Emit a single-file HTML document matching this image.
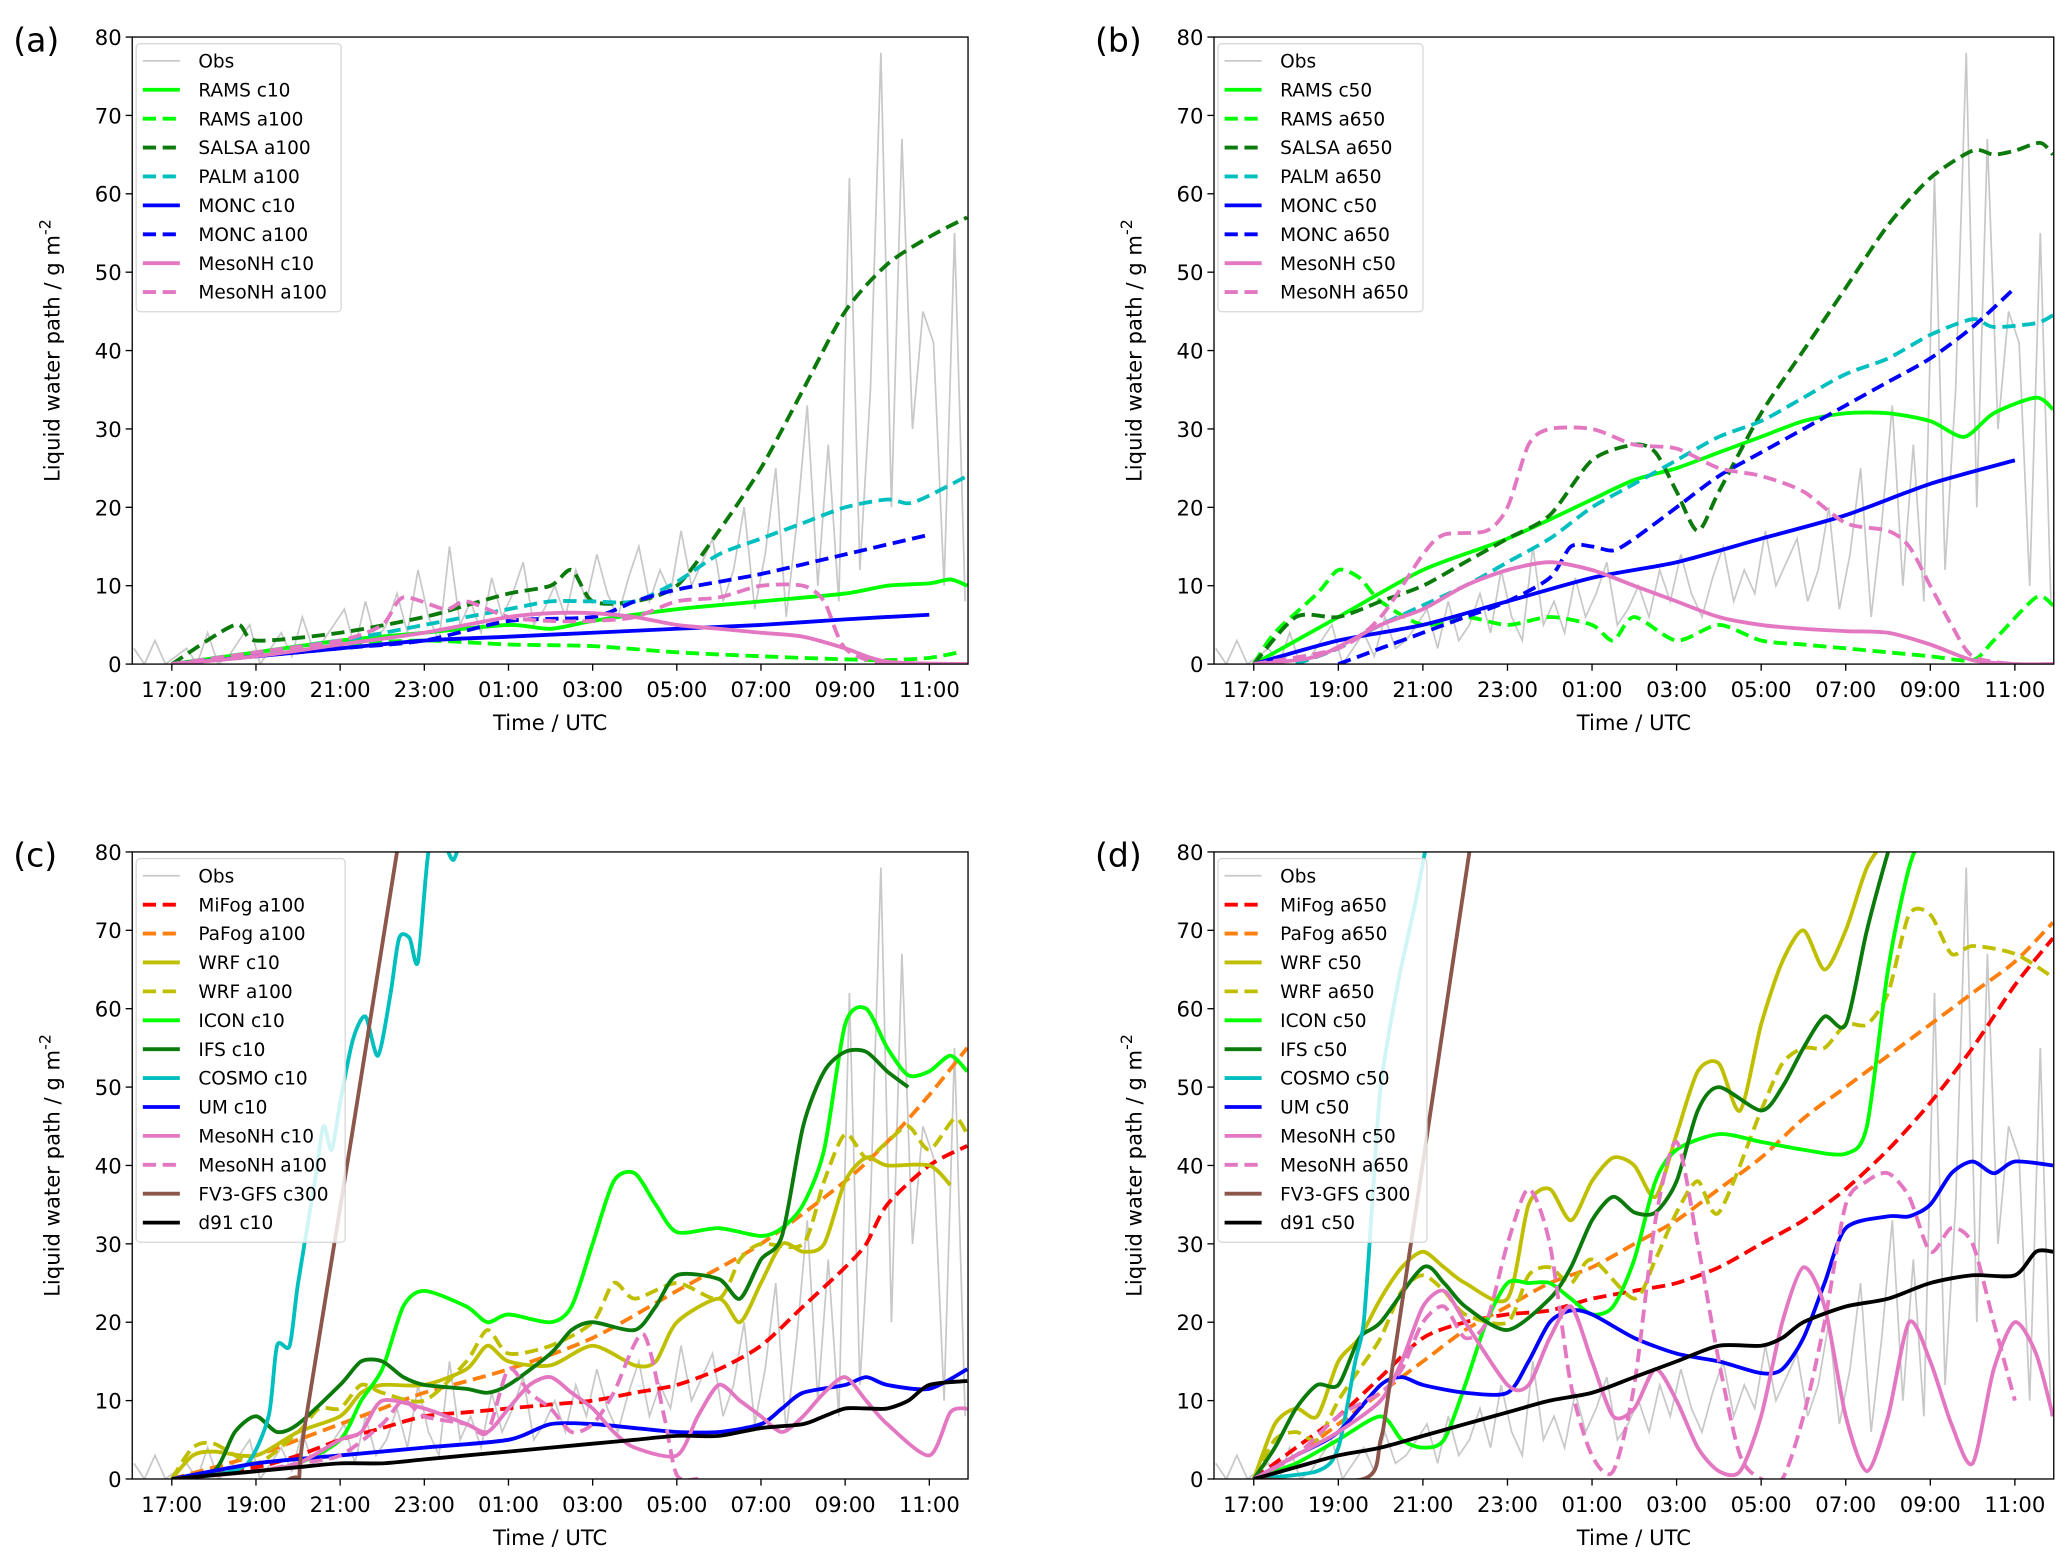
<!DOCTYPE html>
<html><head><meta charset="utf-8"><style>
html,body{margin:0;padding:0;background:#fff;width:2067px;height:1561px;overflow:hidden}
svg{display:block;font-family:"DejaVu Sans","Liberation Sans",sans-serif}
</style></head><body>
<svg id="fig" width="2067" height="1561" viewBox="0 0 1563 1180" preserveAspectRatio="none" xmlns="http://www.w3.org/2000/svg"></svg>
<script>
// ---- data (t = hours after 17:00 UTC) ----
const tickLabels = ["17:00","19:00","21:00","23:00","01:00","03:00","05:00","07:00","09:00","11:00"];
const yTicks = [0,10,20,30,40,50,60,70,80];
const obsStart = -0.9, obsStep = 0.25;
const obsValues = [2,0,3,0,1,2,0,4,0,1,3,5,0,2,4,1,6,2,3,5,7,2,8,3,5,9,4,12,6,3,15,5,8,4,11,6,9,13,5,7,10,6,12,8,14,9,6,11,15,8,12,9,17,10,13,16,8,12,20,7,14,25,6,18,33,10,28,8,62,12,35,78,20,67,30,45,41,10,55,8];

const a_RAMS_c10 = [[0,0],[2,1.5],[4,3],[6,4],[8,5],[9,4.5],[10,5.5],[12,7],[14,8],[16,9],[17,10],[18,10.3],[18.5,10.8],[18.9,10]];
const a_RAMS_a100 = [[0,0],[2,1.5],[4,2.5],[6,3],[8,2.5],[10,2.3],[12,1.5],[14,1],[16,0.6],[17,0.5],[18,0.8],[18.7,1.5]];
const a_SALSA_a100 = [[0,0],[1.5,5],[2,3],[4,4],[6,6],[7,7.5],[8,9],[9,10],[9.5,12],[10,8],[11,8],[12,10],[13,17],[14,25],[15,35],[16,45],[17,51],[18,54.5],[18.9,57]];
const a_PALM_a100 = [[0,0],[4,3],[6,5],[8,7],[9,8],[10,8],[11,8],[12,10.5],[13,14],[14,16],[15,18],[16,20],[17,21],[17.5,20.5],[18,21.5],[18.9,24]];
const a_MONC_c10 = [[0,0],[2,1],[4,2],[6,3],[8,3.5],[10,4],[12,4.5],[14,5],[16,5.7],[18,6.3]];
const a_MONC_a100 = [[0,0],[4,2],[6,3],[8,5.5],[10,6],[11,8],[12,9.5],[14,11.5],[16,14],[18,16.5]];
const a_MesoNH_c10 = [[0,0],[2,1],[4,2.5],[6,4],[8,6],[9,6.5],[10,6.5],[11,6],[12,5],[13,4.5],[14,4],[15,3.5],[16,2],[17,0.3],[18.9,0]];
const a_MesoNH_a100 = [[0,0],[2,1.5],[4,3],[5,5],[5.5,8.5],[6.5,7],[7,8],[8,6],[9,5.5],[10,5.5],[11,6],[12,8],[13,8.5],[14,10],[15,10],[15.5,8],[16,2],[17,0],[18.9,0]];

const b_RAMS_c50 = [[0,0],[2,6],[4,12],[6,16],[8,21],[9,23.5],[10,25],[11,27],[12,29],[13,31],[14,32],[15,32],[16,31],[16.8,29],[17.5,32],[18.5,34],[18.9,32.5]];
const b_RAMS_a650 = [[0,0],[0.5,4],[1.5,9],[2,12],[2.5,11],[3,8],[4,5],[5,6],[6,5],[7,6],[8,5],[8.5,3],[9,6],[10,3],[11,5],[12,3],[13,2.5],[14,2],[15,1.5],[16,1],[17,0.5],[17.5,3],[18.5,8.5],[18.9,7.5]];
const b_SALSA_a650 = [[0,0],[1,6],[2,6],[3,8],[4,10],[5,13],[6,16],[7,19],[8,26],[9,28],[9.5,27],[10,22],[10.5,17],[11,22],[12,32],[13,40],[14,48],[15,56],[16,62],[17,65.5],[17.5,65],[18,65.5],[18.6,66.5],[18.9,65]];
const b_PALM_a650 = [[1,0],[2,2],[3,5],[5,10],[6,13],[7,16],[8,20],[9,23],[10,26],[11,29],[12,31],[13,34],[14,37],[15,39],[16,42],[17,44],[17.5,43],[18.5,43.5],[18.9,44.5]];
const b_MONC_c50 = [[0,0],[2,3],[4,5],[6,8],[8,11],[10,13],[12,16],[14,19],[16,23],[18,26]];
const b_MONC_a650 = [[2,0],[3,2],[4,4],[5,6],[6,8],[7,11],[7.5,15],[8,15],[8.5,14.5],[9,16],[10,20],[11,24],[12,27],[13,30],[14,33],[15,36],[16,39],[17,43],[18,48]];
const b_MesoNH_c50 = [[0,0],[1.5,1],[3,5],[4,7],[5,10],[6,12],[7,13],[8,12],[9,10],[10,8],[11,6],[12,5],[13,4.5],[14,4.2],[15,4],[16,2.5],[17,0.5],[18,0],[18.9,0]];
const b_MesoNH_a650 = [[0,0],[2,2],[3,6],[4,14],[4.5,16.5],[5.5,17],[6,20],[6.5,28],[7,30],[8,30],[9,28],[10,27.5],[11,25],[12,24],[13,22],[14,18],[15,17],[15.5,15],[16,10],[16.5,5],[17,1],[18,0],[18.9,0]];

const c_MiFog = [[0,0],[2,1.5],[3,3],[4,5],[5,6.5],[6,8],[7,8.5],[8,9],[9,9.5],[10,10],[11,11],[12,12],[13,14],[14,17],[15,22],[16,27],[16.5,30],[17,35],[18,40],[18.9,42.5]];
const c_PaFog = [[0,0],[2,3],[3,5],[4,7],[5,9],[6,11],[8,14],[10,18],[12,24],[14,30],[16,38],[17,43],[18,49],[18.9,55]];
const c_WRF_c10 = [[0,0],[0.5,3],[1,3.5],[2,3],[3,6],[4,8],[4.5,11],[5,12],[6,12],[7,14],[7.5,17],[8,15],[9,14.5],[10,17],[11,14.5],[11.5,15],[12,20],[13,23],[13.5,20],[14,25],[14.5,30],[15,29],[15.5,30],[16,38],[16.5,41],[17,40],[18,40],[18.5,37.5]];
const c_WRF_a100 = [[0,0],[0.5,4],[1,4.5],[2,2],[3,6],[3.5,9],[4,9],[4.5,12],[5,11],[6,10],[7,15],[7.5,19],[8,16],[9,17],[10,20],[10.5,25],[11,23],[12,25],[13,23],[13.5,28],[14,30],[15,30],[15.5,38],[16,44],[16.5,41],[17,43],[17.5,45],[18,42],[18.6,46],[18.9,44]];
const c_ICON = [[0,0],[2,1],[3,2],[4,5],[4.5,10],[5,14],[5.5,22],[6,24],[7,22],[7.5,20],[8,21],[9,20],[9.5,22],[10,30],[10.5,38],[11,39],[11.5,35],[12,31.5],[13,32],[14,31],[14.5,32],[15,35],[15.5,42],[16,58],[16.5,60],[17,55],[17.5,51.5],[18,52],[18.5,54],[18.9,52]];
const c_IFS = [[0,0],[1,1],[1.5,6],[2,8],[2.5,6],[3,7],[4,12],[4.5,15],[5,15],[5.5,13],[6,12],[7,11.5],[7.5,11],[8,12],[9,16],[9.5,19],[10,20],[11,19],[11.5,22],[12,26],[13,25.5],[13.5,23],[14,28],[14.5,31],[15,45],[15.5,52],[16,54.5],[16.5,54.5],[17,52],[17.5,50]];
const c_COSMO = [[0,0],[1,0.5],[1.8,2],[2.3,8],[2.5,17],[2.8,17],[3,25],[3.4,38],[3.6,45],[3.8,42],[4,48],[4.3,56],[4.6,59],[4.9,54],[5.2,62],[5.4,69],[5.65,69],[5.85,66],[6.1,80],[6.4,82],[6.7,79],[7,85]];
const c_UM = [[0,0],[2,2],[4,3],[6,4],[8,5],[9,7],[10,7],[11,6.5],[12,6],[13,6],[14,7],[14.5,9],[15,11],[16,12],[16.5,13],[17,12],[18,11.5],[18.9,14]];
const c_MesoNH_c10 = [[0,0],[2,1],[3,2],[4,5],[4.5,6],[5,10],[6,9],[7,7],[7.5,6],[8,9],[8.5,12],[9,13],[9.5,11],[10,9],[10.5,6],[11,4],[12,3],[12.5,8],[13,12],[13.5,10],[14,8],[14.5,6],[15,8],[15.5,11],[16,13],[16.5,10],[17,7],[18,3],[18.5,8.5],[18.9,9]];
const c_MesoNH_a100 = [[0,0],[2,1],[3,2],[4,3],[5,7],[5.5,10],[6,8],[7,7],[7.5,6],[8,14],[8.5,11],[9,9],[9.5,6],[10,7],[10.5,11],[11.2,18.5],[11.7,8],[12,0.5],[12.5,0]];
const c_FV3 = [[0,0],[2.8,0],[3.2,8],[5.35,80],[5.5,85]];
const c_d91 = [[0,0],[2,1],[3,1.5],[4,2],[5,2],[6,2.5],[7,3],[8,3.5],[9,4],[10,4.5],[11,5],[12,5.5],[13,5.5],[14,6.5],[15,7],[15.5,8],[16,9],[16.5,9],[17,9],[17.5,10],[18,12],[18.9,12.5]];

const d_MiFog = [[0,0],[1,4],[2,8],[3,13],[4,18],[5,20],[6,21],[7,21.5],[8,23],[9,24],[10,25],[11,27],[12,30],[13,33],[14,37],[15,42],[16,48],[17,55],[18,63],[18.9,69]];
const d_PaFog = [[0,0],[1,3],[2,7],[3,11],[4,15],[5,19],[6,22],[7,25],[8,27],[9,30],[10,33],[11,37],[12,41],[13,46],[14,50],[15,54],[16,58],[17,62],[18,66],[18.9,71]];
const d_WRF_c50 = [[0,0],[0.5,7],[1,9],[1.5,8],[2,15],[2.5,18],[3,23],[3.5,27],[4,29],[4.5,27],[5,25],[6,23],[6.5,35],[7,37],[7.5,33],[8,38],[8.5,41],[9,40],[9.5,36],[10,44],[10.5,52],[11,53],[11.5,47],[12,58],[12.5,66],[13,70],[13.5,65],[14,70],[14.5,78],[15,82]];
const d_WRF_a650 = [[0,0],[0.5,5],[1,6],[1.5,5],[2,10],[2.5,14],[3,18],[3.5,24],[4,26],[4.5,24],[5,21],[6,20],[6.5,26],[7,27],[7.5,25],[8,28],[9,23],[9.5,28],[10,34],[10.5,38],[11,34],[12,47],[12.5,53],[13,55],[13.5,55],[14,58],[14.5,58],[15,62],[15.5,72],[16,72],[16.5,67],[17,68],[18,67],[18.9,64]];
const d_ICON = [[0,0],[1,2],[2,5],[3,8],[3.5,5],[4,4],[4.5,5],[5,12],[5.5,20],[6,25],[6.5,25],[7,25],[7.5,23],[8,21],[8.5,22],[9,28],[9.5,38],[10,42],[11,44],[12,43],[13,42],[14,41.5],[14.5,45],[15,65],[15.5,78],[16,85]];
const d_IFS = [[0,0],[0.5,4],[1,9],[1.5,12],[2,12],[2.5,18],[3,20],[4,27],[4.5,25],[5,22],[6,19],[7,23],[7.5,27],[8,33],[8.5,36],[9,34],[9.5,34],[10,38],[10.5,47],[11,50],[12,47],[12.5,50],[13,55],[13.5,59],[14,58],[14.5,70],[15,80],[15.3,85]];
const d_COSMO = [[0,0],[1.5,1],[2.0,4],[2.4,15],[2.6,20],[2.8,35],[3.0,50],[3.4,63],[3.8,73],[4.05,80],[4.2,85]];
const d_UM = [[0,0],[1,3],[2,6],[3,12],[3.5,13],[4,12],[5,11],[6,11],[6.5,15],[7,20],[7.5,21.5],[8,21],[9,18],[10,16],[11,15],[12,13.5],[12.5,14],[13,18],[13.5,25],[14,32],[15,33.5],[15.5,33.5],[16,35],[16.5,39],[17,40.5],[17.5,39],[18,40.5],[18.9,40]];
const d_MesoNH_c50 = [[0,0],[1,3],[2,6],[3,10],[3.5,15],[4,22],[4.5,24],[5,20],[6,12],[6.5,12],[7,18],[7.5,22],[8,15],[8.5,8],[9,9],[9.5,14],[10,10],[10.5,4],[11,1],[11.5,1],[12,8],[12.5,20],[13,27],[13.5,22],[14,8],[14.5,1],[15,8],[15.5,20],[16,15],[16.5,7],[17,2],[17.5,14],[18,20],[18.5,16],[18.9,8]];
const d_MesoNH_a650 = [[0,0],[1,3],[2,8],[3,11],[3.5,14],[4,20],[4.5,22],[5,18],[5.5,20],[6,30],[6.5,37],[7,30],[7.5,12],[8,3],[8.5,1],[9,12],[9.5,33],[10,43],[10.5,30],[11,15],[11.5,3],[12,0],[12.5,0],[13,8],[13.5,20],[14,35],[14.5,38],[15,39],[15.5,36],[16,29],[16.5,32],[17,30],[17.5,20],[18,10]];
const d_FV3 = [[0,0],[2.6,0],[3.0,5],[3.3,15],[5.1,80],[5.3,85]];
const d_d91 = [[0,0],[1,1.5],[2,3],[3,4],[4,5.5],[5,7],[6,8.5],[7,10],[8,11],[9,13],[10,15],[11,17],[12,17],[12.5,18],[13,20],[14,22],[15,23],[16,25],[17,26],[18,26],[18.5,29],[18.9,29]];

// ---- styles ----
const LIME="#00ff00",DG="#0a7a0a",CY="#00bfbf",BL="#0000ff",PK="#e377c2",RD="#ff0000",OR="#ff7f0e",OL="#bfbf00",BR="#8c564b",BK="#000000";
const panels = [
 {id:"a",x0:100,x1:732,y0:28,y1:502,series:[
  ["RAMS c10",a_RAMS_c10,LIME,0],["RAMS a100",a_RAMS_a100,LIME,1],["SALSA a100",a_SALSA_a100,DG,1],["PALM a100",a_PALM_a100,CY,1],
  ["MONC c10",a_MONC_c10,BL,0],["MONC a100",a_MONC_a100,BL,1],["MesoNH c10",a_MesoNH_c10,PK,0],["MesoNH a100",a_MesoNH_a100,PK,1]]},
 {id:"b",x0:918,x1:1553,y0:28,y1:502,series:[
  ["RAMS c50",b_RAMS_c50,LIME,0],["RAMS a650",b_RAMS_a650,LIME,1],["SALSA a650",b_SALSA_a650,DG,1],["PALM a650",b_PALM_a650,CY,1],
  ["MONC c50",b_MONC_c50,BL,0],["MONC a650",b_MONC_a650,BL,1],["MesoNH c50",b_MesoNH_c50,PK,0],["MesoNH a650",b_MesoNH_a650,PK,1]]},
 {id:"c",x0:100,x1:732,y0:644,y1:1118,series:[
  ["MiFog a100",c_MiFog,RD,1],["PaFog a100",c_PaFog,OR,1],["WRF c10",c_WRF_c10,OL,0],["WRF a100",c_WRF_a100,OL,1],["ICON c10",c_ICON,LIME,0],
  ["IFS c10",c_IFS,DG,0],["COSMO c10",c_COSMO,CY,0],["UM c10",c_UM,BL,0],["MesoNH c10",c_MesoNH_c10,PK,0],["MesoNH a100",c_MesoNH_a100,PK,1],
  ["FV3-GFS c300",c_FV3,BR,0],["d91 c10",c_d91,BK,0]]},
 {id:"d",x0:918,x1:1553,y0:644,y1:1118,series:[
  ["MiFog a650",d_MiFog,RD,1],["PaFog a650",d_PaFog,OR,1],["WRF c50",d_WRF_c50,OL,0],["WRF a650",d_WRF_a650,OL,1],["ICON c50",d_ICON,LIME,0],
  ["IFS c50",d_IFS,DG,0],["COSMO c50",d_COSMO,CY,0],["UM c50",d_UM,BL,0],["MesoNH c50",d_MesoNH_c50,PK,0],["MesoNH a650",d_MesoNH_a650,PK,1],
  ["FV3-GFS c300",d_FV3,BR,0],["d91 c50",d_d91,BK,0]]}
];
const NS="http://www.w3.org/2000/svg";
const svg=document.getElementById("fig");
function mk(tag,attrs,parent){const e=document.createElementNS(NS,tag);for(const k in attrs)e.setAttribute(k,attrs[k]);(parent||svg).appendChild(e);return e;}
function smooth(P){
  if(P.length<3){return P.map((p,i)=>(i?"L":"M")+p[0].toFixed(1)+","+p[1].toFixed(1)).join("");}
  let d="M"+P[0][0].toFixed(1)+","+P[0][1].toFixed(1);
  for(let i=0;i<P.length-1;i++){
    const p0=P[Math.max(0,i-1)],p1=P[i],p2=P[i+1],p3=P[Math.min(P.length-1,i+2)];
    const k=1/6*0.8;
    const c1=[p1[0]+(p2[0]-p0[0])*k,p1[1]+(p2[1]-p0[1])*k];
    const c2=[p2[0]-(p3[0]-p1[0])*k,p2[1]-(p3[1]-p1[1])*k];
    d+="C"+c1[0].toFixed(1)+","+c1[1].toFixed(1)+" "+c2[0].toFixed(1)+","+c2[1].toFixed(1)+" "+p2[0].toFixed(1)+","+p2[1].toFixed(1);
  }
  return d;
}
const TMIN=-0.94,TMAX=18.92,VMAX=80;
panels.forEach(p=>{
  const g=mk("g",{});
  
  
  const xs=t=>p.x0+(t-TMIN)/(TMAX-TMIN)*(p.x1-p.x0);
  const ys=v=>p.y1-v/VMAX*(p.y1-p.y0);
  const cp=mk("clipPath",{id:"clip"+p.id},g);
  mk("rect",{x:p.x0,y:p.y0,width:p.x1-p.x0,height:p.y1-p.y0},cp);
  const plot=mk("g",{"clip-path":"url(#clip"+p.id+")"},g);
  let od="";obsValues.forEach((v,i)=>{od+=(i?"L":"M")+xs(obsStart+i*obsStep).toFixed(1)+","+ys(v).toFixed(1);});
  const op=mk("path",{d:od,fill:"none",stroke:"#c8c8c8","stroke-width":1.3},plot);
  
  
  p.series.forEach(s=>{
    const pts=s[1].map(pt=>[xs(pt[0]),ys(pt[1])]);
    const el=mk("path",{d:smooth(pts),fill:"none",stroke:s[2],"stroke-width":2.9,"stroke-linejoin":"round","stroke-dasharray":s[3]?"10,5":"none"},plot);
    
    
  });
  mk("rect",{x:p.x0,y:p.y0,width:p.x1-p.x0,height:p.y1-p.y0,fill:"none",stroke:"#000","stroke-width":1},g);
  yTicks.forEach(v=>{
    const y=ys(v);
    mk("line",{x1:p.x0-5,x2:p.x0,y1:y,y2:y,stroke:"#000","stroke-width":1},g);
    const t=mk("text",{x:p.x0-8,y:y+6,"text-anchor":"end","font-size":16},g);t.textContent=v;
    
    
  });
  tickLabels.forEach((lab,i)=>{
    const x=xs(i*2);
    mk("line",{x1:x,x2:x,y1:p.y1,y2:p.y1+5,stroke:"#000","stroke-width":1},g);
    const t=mk("text",{x:x,y:p.y1+25,"text-anchor":"middle","font-size":16},g);t.textContent=lab;
    
    
  });
  const xl=mk("text",{x:(p.x0+p.x1)/2,y:p.y1+50,"text-anchor":"middle","font-size":16},g);xl.textContent="Time / UTC";
  
  
  const yl=mk("text",{transform:"translate("+(p.x0-55)+","+((p.y0+p.y1)/2)+") rotate(-90)","text-anchor":"middle","font-size":16},g);
  yl.innerHTML='Liquid water path / g m<tspan dy="-7" font-size="12">-2</tspan>';
  
  
  const pl=mk("text",{x:p.x0-90,y:p.y0+11,"font-size":25},g);pl.textContent="("+p.id+")";
  
  
  const ents=[["Obs",null,"#c8c8c8",0]].concat(p.series);
  const lg=mk("g",{},g);
  
  
  const sp=21.85, lh=ents.length*sp+6;
  mk("rect",{x:p.x0+3,y:p.y0+5,width:p.id==="a"||p.id==="b"?155:158,height:lh,rx:3,fill:"#fff","fill-opacity":0.82,stroke:"#d8d8d8","stroke-width":1},lg);
  ents.forEach((s,i)=>{
    const y=p.y0+18+i*sp;
    const e=mk("g",{},lg);
    
    
    mk("line",{x1:p.x0+8,x2:p.x0+36,y1:y,y2:y,stroke:s[2],"stroke-width":i?2.9:1.3,"stroke-dasharray":s[3]?"10,5":"none"},e);
    const t=mk("text",{x:p.x0+50,y:y+5,"font-size":14},e);t.textContent=s[0];
  });
});
</script>
</body></html>
